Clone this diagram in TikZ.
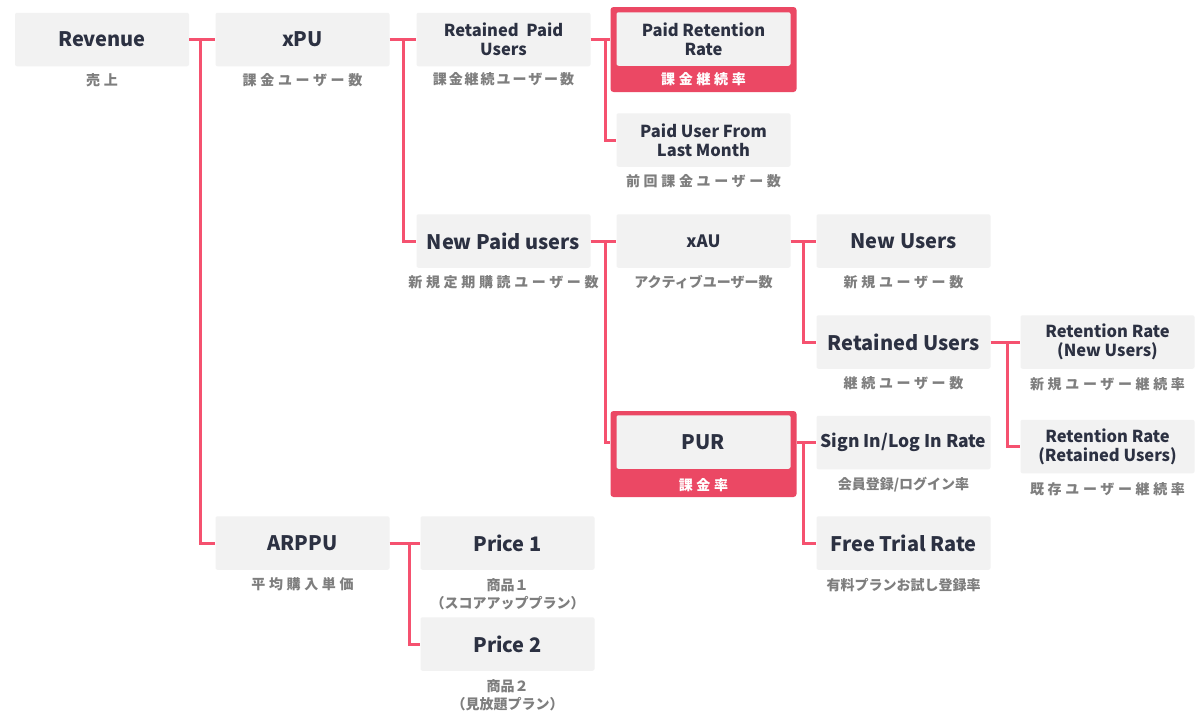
\documentclass[tikz,border=0pt]{standalone}
\usepackage{fontspec}
\setmainfont{Noto Sans CJK JP}
\usetikzlibrary{calc}

\definecolor{boxgray}{HTML}{F2F2F2}
\definecolor{ink}{HTML}{2C3142}
\definecolor{subgray}{HTML}{7E7E7E}
\definecolor{linkred}{HTML}{F5516F}
\definecolor{framered}{HTML}{EB4864}

\tikzset{
  metric/.style={fill=boxgray, rounded corners=2pt, minimum width=174pt,
    minimum height=53.5pt, inner sep=0pt, align=center, text=ink,
    font=\bfseries\fontsize{20}{24}\selectfont},
  metric2/.style={metric, font=\bfseries\fontsize{16.5}{19}\selectfont},
  framebox/.style={fill=framered, rounded corners=3pt, minimum width=186pt, inner sep=0pt},
  caption/.style={text=subgray, inner sep=0pt, align=center,
    font=\bfseries\fontsize{14}{18}\selectfont},
  captionsp/.style={caption,
    font=\bfseries\fontsize{14}{18}\selectfont\addfontfeature{LetterSpace=26}},
  redcaption/.style={captionsp, text=white},
  link/.style={draw=linkred, line width=3pt},
}

\begin{document}
\begin{tikzpicture}[x=1pt, y=-1pt]
\useasboundingbox[fill=white] (0,0) rectangle (1204,712);

% ---- highlighted frames ----
\node[framebox, minimum height=85pt] (prrF) at (703.5,49.5) {};
\node[framebox, minimum height=86pt] (purF) at (703.5,454) {};

% ---- metric boxes ----
\node[metric]  (rev)   at (102,39.5)    {Revenue};
\node[metric]  (xpu)   at (302.5,39.5)  {xPU};
\node[metric2] (rpu)   at (503.5,39.5)  {Retained\ \ Paid\\Users};
\node[metric2] (prr)   at (703.5,39)    {Paid Retention\\Rate};
\node[metric2] (pulm)  at (703.5,140)   {Paid User From\\Last Month};
\node[metric]  (npu)   at (503.5,241)   {New Paid users};
\node[metric, font=\bfseries\fontsize{17}{20}\selectfont] (xau) at (703.5,241) {xAU};
\node[metric]  (nu)    at (903.5,241)   {New Users};
\node[metric]  (ru)    at (903.5,342)   {Retained Users};
\node[metric2] (rrn)   at (1107.5,342)  {Retention Rate\\(New Users)};
\node[metric]  (pur)   at (703.5,442)   {PUR};
\node[metric, font=\bfseries\fontsize{17.5}{21}\selectfont] (sil) at (903.5,442.5) {Sign In/Log In Rate};
\node[metric2] (rrr)   at (1107.5,446.5){Retention Rate\\(Retained Users)};
\node[metric]  (arppu) at (302.5,543)   {ARPPU};
\node[metric]  (p1)    at (507.5,543)   {Price 1};
\node[metric]  (p2)    at (507.5,644)   {Price 2};
\node[metric]  (ftr)   at (903.5,543)   {Free Trial Rate};

% ---- captions ----
\node[captionsp] (revL)   at (102,80)      {売上};
\node[captionsp] (xpuL)   at (302.5,80)    {課金ユーザー数};
\node[caption, font=\bfseries\fontsize{14}{18}\selectfont\addfontfeature{LetterSpace=14}] (rpuL) at (503.5,79) {課金継続ユーザー数};
\node[redcaption] (prrL)  at (703.5,79)    {課金継続率};
\node[captionsp] (pulmL)  at (703.5,181.5) {前回課金ユーザー数};
\node[captionsp] (npuL)   at (503.5,282)   {新規定期購読ユーザー数};
\node[caption]   (xauL)   at (703.5,282)   {アクティブユーザー数};
\node[captionsp] (nuL)    at (903.5,282)   {新規ユーザー数};
\node[captionsp] (ruL)    at (903.5,383)   {継続ユーザー数};
\node[captionsp] (rrnL)   at (1107.5,384)  {新規ユーザー継続率};
\node[redcaption] (purL)  at (703.5,485)   {課金率};
\node[caption]   (silL)   at (903.5,485)   {会員登録/ログイン率};
\node[captionsp] (rrrL)   at (1107.5,489)  {既存ユーザー継続率};
\node[captionsp] (arppuL) at (302.5,584.5) {平均購入単価};
\node[caption]   (p1L)    at (507.5,594)   {商品１\\（スコアアッププラン）};
\node[caption]   (p2L)    at (507.5,695)   {商品２\\（見放題プラン）};
\node[caption]   (ftrL)   at (903.5,585)   {有料プランお試し登録率};

% ---- tree links ----
\coordinate (j1) at ($(rev.east)!0.45!(xpu.west)$);
\coordinate (j2) at ($(xpu.east)!0.5!(rpu.west)$);
\coordinate (j3) at ($(rpu.east)!0.75!(rpu.east -| prrF.west)$);
\coordinate (j4) at ($(npu.east)!0.577!(xau.west)$);
\coordinate (j5) at ($(xau.east)!0.5!(nu.west)$);
\coordinate (j6) at ($(ru.east)!0.567!(rrn.west)$);
\coordinate (j7) at ($(pur.east -| purF.east)!0.35!(pur.east -| sil.west)$);
\coordinate (j8) at ($(arppu.east)!0.656!(p1.west)$);

\draw[link] (rev.east) -- (xpu.west);
\draw[link] (j1) |- (arppu.west);
\draw[link] (xpu.east) -- (rpu.west);
\draw[link] (j2) |- (npu.west);
\draw[link] (rpu.east) -- (rpu.east -| prrF.west);
\draw[link] (j3) |- (pulm.west);
\draw[link] (npu.east) -- (xau.west);
\draw[link] (j4) |- (pur.west -| purF.west);
\draw[link] (xau.east) -- (nu.west);
\draw[link] (j5) |- (ru.west);
\draw[link] (ru.east) -- (rrn.west);
\draw[link] (j6) |- (rrr.west);
\draw[link] (pur.east -| purF.east) -- (pur.east -| sil.west);
\draw[link] (j7) |- (ftr.west);
\draw[link] (arppu.east) -- (p1.west);
\draw[link] (j8) |- (p2.west);
\end{tikzpicture}
\end{document}
